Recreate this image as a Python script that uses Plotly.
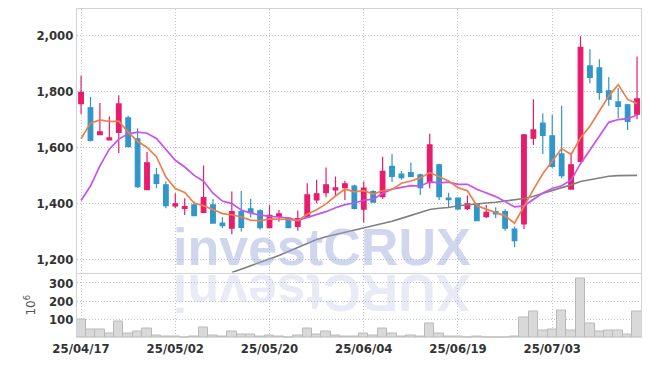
import plotly.graph_objects as go
from plotly.subplots import make_subplots

dates = ["25/04/17","25/04/18","25/04/21","25/04/22","25/04/23","25/04/24","25/04/25","25/04/28","25/04/29","25/04/30",
         "25/05/02","25/05/07","25/05/08","25/05/09","25/05/12","25/05/13","25/05/14","25/05/15","25/05/16","25/05/19",
         "25/05/20","25/05/21","25/05/22","25/05/23","25/05/26","25/05/27","25/05/28","25/05/29","25/05/30","25/06/02",
         "25/06/04","25/06/05","25/06/09","25/06/10","25/06/11","25/06/12","25/06/13","25/06/16","25/06/17","25/06/18",
         "25/06/19","25/06/20","25/06/23","25/06/24","25/06/25","25/06/26","25/06/27","25/06/30","25/07/01","25/07/02",
         "25/07/03","25/07/04","25/07/07","25/07/08","25/07/09","25/07/10","25/07/11","25/07/14","25/07/15","25/07/16"]

open_ = [1757,1742,1646,1627,1654,1706,1631,1449,1502,1466,
         1391,1382,1394,1367,1394,1329,1311,1370,1380,1373,
         1313,1352,1347,1317,1350,1412,1438,1448,1456,1462,
         1379,1442,1424,1532,1505,1510,1502,1474,1538,1419,
         1419,1381,1397,1352,1370,1370,1308,1326,1633,1687,
         1642,1577,1451,1550,1892,1885,1803,1763,1753,1719]
high = [1857,1782,1759,1711,1787,1714,1669,1584,1526,1478,
        1436,1418,1406,1535,1415,1350,1442,1444,1415,1379,
        1393,1376,1350,1374,1472,1484,1528,1496,1481,1466,
        1478,1447,1567,1577,1516,1546,1506,1649,1542,1438,
        1422,1428,1400,1394,1386,1379,1317,1648,1773,1723,
        1717,1749,1582,1998,1952,1916,1852,1813,1757,1926]
low = [1720,1621,1645,1626,1580,1601,1455,1447,1454,1382,
       1382,1358,1355,1364,1327,1311,1289,1299,1349,1305,
       1311,1334,1312,1302,1348,1400,1422,1424,1412,1378,
       1331,1402,1415,1476,1484,1494,1430,1454,1412,1386,
       1376,1376,1336,1347,1347,1302,1243,1308,1609,1577,
       1526,1490,1449,1548,1830,1771,1749,1705,1663,1701]
close = [1797,1625,1656,1634,1756,1603,1460,1545,1471,1392,
         1398,1388,1356,1420,1329,1320,1370,1314,1367,1313,
         1357,1362,1313,1345,1430,1434,1466,1455,1470,1382,
         1454,1404,1514,1496,1492,1496,1456,1609,1424,1413,
         1380,1398,1338,1368,1362,1311,1266,1645,1663,1643,
         1532,1499,1538,1959,1851,1797,1773,1747,1693,1774]

ma_short = [1631,1687,1699,1693,1694,1655,1622,1600,1567,1494,
            1453,1439,1401,1391,1378,1363,1359,1351,1340,1337,
            1344,1343,1342,1338,1361,1377,1398,1426,1451,1441,
            1445,1433,1445,1450,1472,1480,1491,1510,1495,1480,
            1456,1445,1391,1379,1369,1355,1329,1390,1449,1506,
            1550,1596,1575,1634,1676,1729,1784,1825,1772,1757]
ma_mid = [1410,1462,1534,1594,1630,1649,1655,1651,1632,1594,
          1554,1530,1500,1479,1436,1408,1399,1376,1365,1358,
          1353,1351,1347,1339,1349,1361,1370,1384,1395,1401,
          1411,1415,1435,1451,1457,1463,1462,1477,1473,1476,
          1468,1468,1450,1437,1424,1406,1387,1391,1414,1437,
          1453,1463,1483,1542,1591,1639,1690,1700,1703,1716]
ma_long = [None,None,None,None,None,None,None,None,None,None,
           None,None,None,None,None,None,1152,1164,1175,1187,
           1199,1213,1227,1241,1255,1270,1280,1288,1295,1303,
           1310,1318,1326,1336,1346,1356,1367,1378,1382,1385,
           1391,1395,1398,1401,1404,1408,1412,1417,1425,1435,
           1445,1456,1466,1478,1485,1490,1497,1499,1500,1500]

volume = [100,45,45,23,89,23,34,51,12,10,
          7,5,6,56,12,7,36,20,20,7,
          12,6,5,12,51,20,36,12,8,6,
          25,12,51,27,8,12,6,80,27,8,
          6,5,6,5,3,3,8,114,144,40,
          45,151,40,324,78,36,43,40,20,142]

tick_dates = ["25/04/17","25/05/02","25/05/20","25/06/04","25/06/19","25/07/03"]
price_ticks = [1200,1400,1600,1800,2000]
vol_ticks = [100,200,300]

UP = "#e81c6c"
DOWN = "#3197c9"
GRID = "#bfc3d6"
GRIDDASH = "1px,2px"
AXIS = "#d2d2d8"
TICKFONT = dict(family="DejaVu Sans Condensed, DejaVu Sans, sans-serif", size=13, color="#333333", weight="bold")

fig = make_subplots(rows=2, cols=1, shared_xaxes=True, vertical_spacing=0)

fig.add_trace(go.Scatter(x=dates, y=ma_long, mode="lines", line=dict(color="#808080", width=1.6),
                         connectgaps=False, showlegend=False, hoverinfo="skip"), row=1, col=1)
fig.add_trace(go.Scatter(x=dates, y=ma_mid, mode="lines", line=dict(color="#c653ec", width=1.7),
                         showlegend=False, hoverinfo="skip"), row=1, col=1)
fig.add_trace(go.Scatter(x=dates, y=ma_short, mode="lines", line=dict(color="#ee7f4b", width=1.7),
                         showlegend=False, hoverinfo="skip"), row=1, col=1)
fig.add_trace(go.Candlestick(x=dates, open=open_, high=high, low=low, close=close,
                             increasing=dict(line=dict(color=UP, width=1.2), fillcolor=UP),
                             decreasing=dict(line=dict(color=DOWN, width=1.2), fillcolor=DOWN),
                             whiskerwidth=0, showlegend=False), row=1, col=1)
fig.add_trace(go.Bar(x=dates, y=volume, marker=dict(color="#d9d9d9", line=dict(color="#b9b9b9", width=1)),
                     showlegend=False), row=2, col=1)

xcommon = dict(type="category", range=[-0.43, 59.42], showgrid=True, gridcolor=GRID, griddash=GRIDDASH,
               gridwidth=1, tickvals=tick_dates, zeroline=False, automargin=False)
fig.update_xaxes(**xcommon)
fig.update_xaxes(row=1, col=1, showticklabels=False, showline=True, linecolor=AXIS, mirror=True,
                 rangeslider=dict(visible=False))
fig.update_xaxes(row=2, col=1, showticklabels=True, showline=False, tickfont=TICKFONT, ticks="",
                 ticklabelstandoff=1)

fig.update_yaxes(row=1, col=1, range=[1152, 2096], tickvals=price_ticks, tickformat=",",
                 showgrid=True, gridcolor=GRID, griddash=GRIDDASH, zeroline=False, automargin=False,
                 showline=True, linecolor=AXIS, mirror=True, tickfont=TICKFONT, ticks="",
                 domain=[0.199, 1])
fig.update_yaxes(row=2, col=1, range=[0, 357], tickvals=vol_ticks, showgrid=True, gridcolor=GRID,
                 griddash=GRIDDASH, zeroline=False, showline=True, linecolor=AXIS, mirror=True,
                 tickfont=TICKFONT, ticks="", domain=[0, 0.199], automargin=False,
                 title=dict(text="10<sup>6</sup>", font=dict(family="DejaVu Sans", size=12, color="#555555"),
                            standoff=10))

fig.add_annotation(text="investCRUX", xref="paper", yref="paper", x=0.434, y=0.182,
                   showarrow=False, font=dict(family="Liberation Sans", size=52,
                                              color="rgba(150,165,215,0.45)", weight="bold"))
fig.add_annotation(text="XURCtsevni", xref="paper", yref="paper", x=0.434, y=0.042, textangle=180,
                   showarrow=False, font=dict(family="Liberation Sans", size=52,
                                              color="rgba(150,165,215,0.22)", weight="bold"))

# page body adds an 8px offset; size/margins compensate so the plot area matches the reference
fig.update_layout(width=642, height=358, margin=dict(l=69, r=9, t=1, b=28, autoexpand=False),
                  paper_bgcolor="white", plot_bgcolor="white", bargap=0, hovermode=False)

fig.write_html("out.html")
